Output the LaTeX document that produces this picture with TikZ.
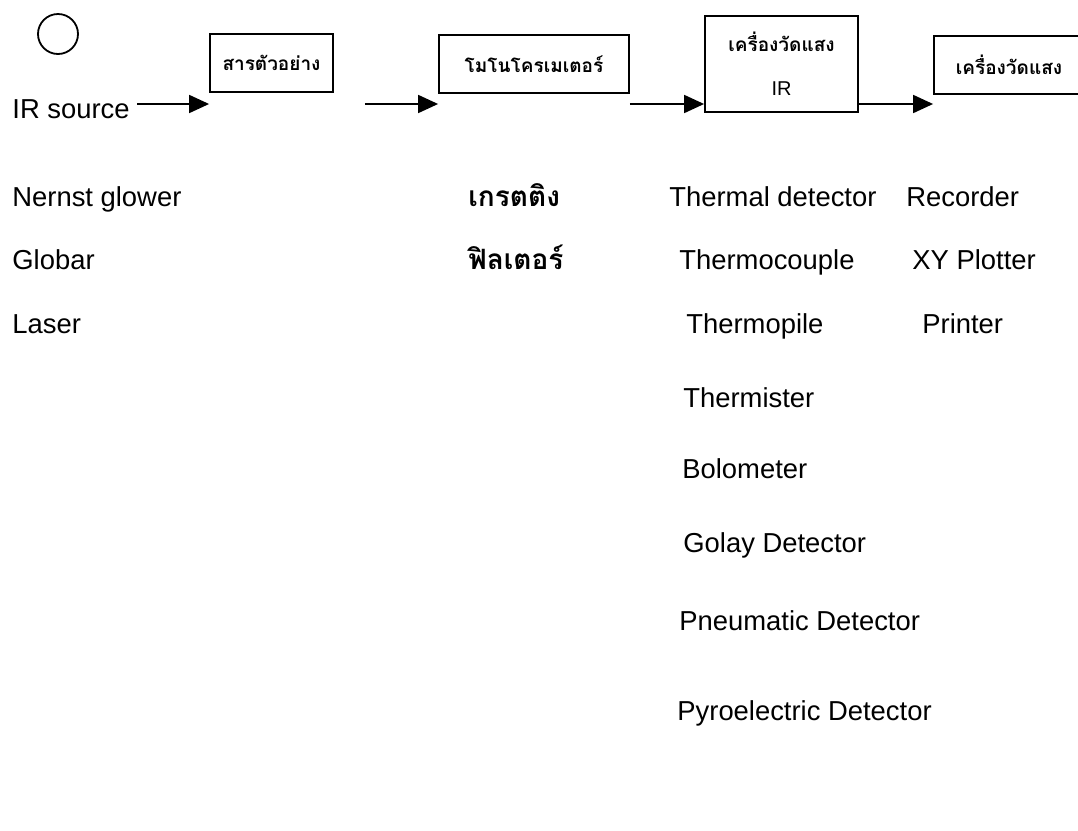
\documentclass[tikz,border=0pt]{standalone}
\usepackage{fontspec}
\setmainfont{Liberation Sans}
\newfontfamily\thaifont[Script=Thai]{Loma}
\usetikzlibrary{arrows.meta}

\begin{document}
\begin{tikzpicture}[
    x=0.5pt, y=-0.5pt,
    % Style definitions
    stage/.style={rectangle, draw=black, line width=0.9pt, inner sep=0pt,
                  align=center, font=\thaifont\bfseries\fontsize{9.5}{11}\selectfont},
    item/.style={anchor=base west, inner sep=0pt, font=\fontsize{13.7}{16}\selectfont},
    thaiitem/.style={anchor=base west, inner sep=0pt, font=\thaifont\bfseries\fontsize{14}{16}\selectfont},
    arrow/.style={-{Triangle[length=10pt, width=9pt]}, line width=0.9pt},
]
\useasboundingbox (0,0) rectangle (1078,831);

% Source lamp and flow line
\node[circle, draw, line width=0.9pt, minimum size=20pt, inner sep=0pt] (lamp) at (58,34) {};
\coordinate (flow) at (0,104);
\node[item] (irsrc) at (12,118) {IR source};

% Blocks
\node[stage, minimum width=61.5pt, minimum height=29pt] (sample) at (271.5,63) {สารตัวอย่าง};
\node[stage, minimum width=95pt, minimum height=29pt] (mono) at (534,64) {โมโนโครเมเตอร์};
\node[stage, minimum width=76.5pt, minimum height=48pt] (detector) at (781.5,64)
    {เครื่องวัดแสง\\[11pt]{\normalfont\fontsize{10}{12}\selectfont IR}};
\node[stage, minimum width=75pt, minimum height=29pt] (meter) at (1009,65) {เครื่องวัดแสง};

% Arrows
\draw[arrow] ([xshift=3.5pt]irsrc.east |- flow) -- (sample.west |- flow);
\draw[arrow] ([xshift=15.5pt]sample.east |- flow) -- (mono.west |- flow);
\draw[arrow] (mono.east |- flow) -- (detector.west |- flow);
\draw[arrow] (detector.east |- flow) -- (meter.west |- flow);

% Sources
\node[item] (nernst) at (12,206) {Nernst glower};
\node[item] (globar) at (12,269) {Globar};
\node[item] (laser) at (12,333) {Laser};

% Monochromator parts
\node[thaiitem] (grating) at (468,206) {เกรตติง};
\node[thaiitem] (filter) at (468,269) {ฟิลเตอร์};

% Detectors
\node[item] (thermal) at (669,206) {Thermal detector};
\node[item] (couple) at (679,269) {Thermocouple};
\node[item] (pile) at (686,333) {Thermopile};
\node[item] (mister) at (683,407) {Thermister};
\node[item] (bolo) at (682,478) {Bolometer};
\node[item] (golay) at (683,552) {Golay Detector};
\node[item] (pneu) at (679,630) {Pneumatic Detector};
\node[item] (pyro) at (677,720) {Pyroelectric Detector};

% Read-out
\node[item] (recorder) at (906,206) {Recorder};
\node[item] (plotter) at (912,269) {XY Plotter};
\node[item] (printer) at (922,333) {Printer};
\end{tikzpicture}
\end{document}
